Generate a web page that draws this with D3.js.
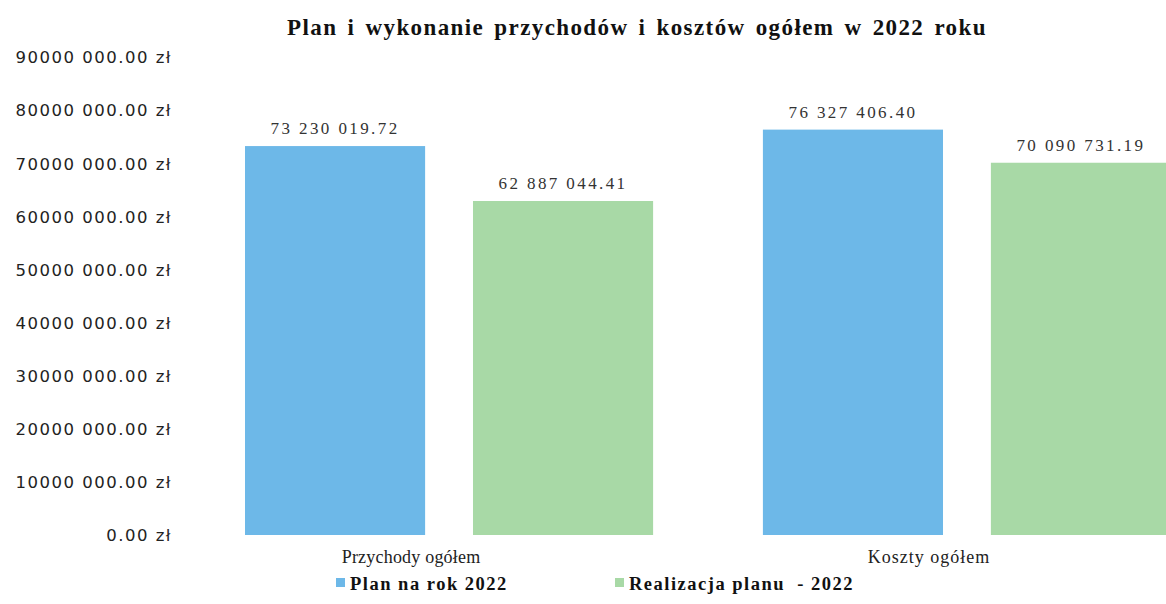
<!DOCTYPE html>
<html>
<head>
<meta charset="utf-8">
<script src="https://cdn.jsdelivr.net/npm/d3@7"></script>
<style>
  body { margin: 0; background: #fff; }
  svg { display: block; }
</style>
</head>
<body>
<svg id="chart"></svg>
<script>
// data
var categories = ["Przychody ogółem", "Koszty ogółem"];
var seriesNames = ["Plan na rok 2022", "Realizacja planu  - 2022"];
var planValues = [73230019.72, 76327406.40];
var realValues = [62887044.41, 70090731.19];
var valueLabels = [["73 230 019.72", "62 887 044.41"], ["76 327 406.40", "70 090 731.19"]];
var yTicks = [0, 10000000, 20000000, 30000000, 40000000, 50000000, 60000000, 70000000, 80000000, 90000000];
var yTickLabels = ["0.00 zł", "10000 000.00 zł", "20000 000.00 zł", "30000 000.00 zł", "40000 000.00 zł",
                   "50000 000.00 zł", "60000 000.00 zł", "70000 000.00 zł", "80000 000.00 zł", "90000 000.00 zł"];
var title = "Plan i wykonanie przychodów i kosztów ogółem w 2022 roku";

var color = { "Plan na rok 2022": "#6db8e8", "Realizacja planu  - 2022": "#a8d9a6" };

var width = 1166, height = 604;
var svg = d3.select("#chart").attr("width", width).attr("height", height);

var rows = categories.map(function(c, i) {
    return { cat: c, vals: [planValues[i], realValues[i]], labels: valueLabels[i] };
});

var x0 = d3.scaleBand().domain(categories).range([245, 1171]).paddingInner(0.212).paddingOuter(0);
var x1 = d3.scaleBand().domain(seriesNames).range([0, x0.bandwidth()]).paddingInner(0.21).paddingOuter(0);
var y = d3.scaleLinear().domain([0, 90000000]).range([535, 57]);

// y axis, labels only
var yAxis = d3.axisLeft(y).tickValues(yTicks).tickSize(0).tickPadding(0)
    .tickFormat(function(d, i) { return yTickLabels[i]; });
var ya = svg.append("g").attr("transform", "translate(172,0)").call(yAxis);
ya.select(".domain").remove();
ya.selectAll("text")
    .attr("dy", "0.35em")
    .style("font-family", "'DejaVu Sans', sans-serif")
    .style("font-size", "16.5px")
    .style("letter-spacing", "1.5px")
    .attr("fill", "#222");

// bars
var groups = svg.selectAll(".grp").data(rows).enter().append("g")
    .attr("class", "grp")
    .attr("transform", function(d) { return "translate(" + x0(d.cat) + ",0)"; });

function cells(d) {
    return seriesNames.map(function(s, i) { return { s: s, v: d.vals[i], lab: d.labels[i] }; });
}

groups.selectAll("rect").data(cells).enter().append("rect")
    .attr("x", function(d) { return x1(d.s); })
    .attr("y", function(d) { return y(d.v); })
    .attr("width", x1.bandwidth())
    .attr("height", function(d) { return y(0) - y(d.v); })
    .attr("fill", function(d) { return color[d.s]; });

groups.selectAll(".val").data(cells).enter().append("text")
    .attr("class", "val")
    .attr("x", function(d) { return x1(d.s) + x1.bandwidth() / 2; })
    .attr("y", function(d) { return y(d.v) - 12; })
    .attr("text-anchor", "middle")
    .style("font-family", "'Liberation Serif', serif")
    .style("font-size", "17px")
    .style("letter-spacing", "2.4px")
    .attr("fill", "#333")
    .text(function(d) { return d.lab; });

// category labels (sit a bit left of the group centre in the original)
svg.selectAll(".cat").data(categories).enter().append("text")
    .attr("class", "cat")
    .attr("x", function(d) { return x0(d) + x0.bandwidth() / 2 - 38; })
    .attr("y", 563)
    .attr("text-anchor", "middle")
    .style("font-family", "'Liberation Serif', serif")
    .style("font-size", "18px")
    .style("letter-spacing", function(d, i) { return i ? "1px" : "0.2px"; })
    .attr("fill", "#222")
    .text(function(d) { return d; });

// title
svg.append("text")
    .attr("x", 637).attr("y", 35)
    .attr("text-anchor", "middle")
    .style("font-family", "'Liberation Serif', serif")
    .style("font-weight", "bold")
    .style("font-size", "23px")
    .style("letter-spacing", "1.4px")
    .style("word-spacing", "3px")
    .attr("fill", "#111")
    .text(title);

// legend
var legX = [336, 615];
var leg = svg.selectAll(".leg").data(seriesNames).enter().append("g")
    .attr("class", "leg")
    .attr("transform", function(d, i) { return "translate(" + legX[i] + ",0)"; });
leg.append("rect").attr("x", 0).attr("y", 578).attr("width", 9).attr("height", 9)
    .attr("fill", function(d) { return color[d]; });
leg.append("text").attr("x", 14).attr("y", 590)
    .style("font-family", "'Liberation Serif', serif")
    .style("font-weight", "bold")
    .style("font-size", "18.5px")
    .style("letter-spacing", "1.5px")
    .style("white-space", "pre")
    .attr("fill", "#111")
    .text(function(d) { return d; });
</script>
</body>
</html>
